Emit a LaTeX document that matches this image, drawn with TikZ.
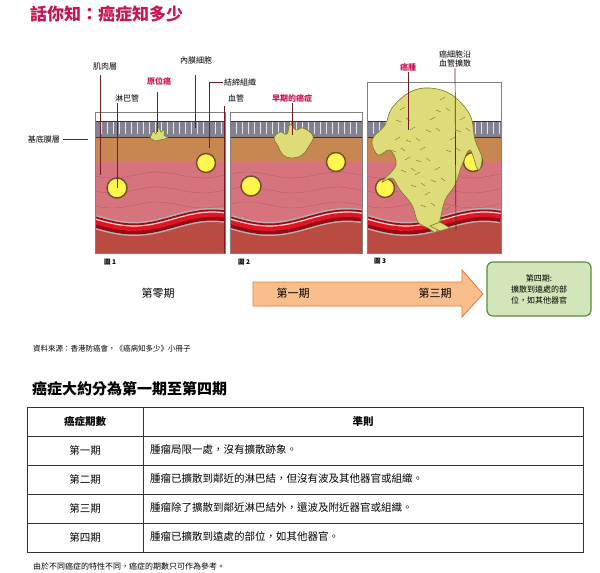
\documentclass[tikz,border=0pt]{standalone}
\usepackage{fontspec}
\setmainfont{Noto Sans CJK TC}
\definecolor{titred}{RGB}{200,20,80}
\definecolor{epi}{RGB}{130,130,145}
\definecolor{brn}{RGB}{200,135,80}
\definecolor{pnk}{RGB}{215,115,125}
\definecolor{bot}{RGB}{185,75,65}
\definecolor{ves}{RGB}{150,10,20}
\definecolor{vesr}{RGB}{225,20,35}
\definecolor{tum}{RGB}{222,220,120}
\definecolor{tumd}{RGB}{120,120,40}
\definecolor{lead}{RGB}{110,30,30}
\definecolor{arr}{RGB}{250,190,140}
\definecolor{arrd}{RGB}{225,120,60}
\definecolor{grn}{RGB}{210,230,185}
\definecolor{grnd}{RGB}{90,140,60}
\tikzset{
 lbl/.style={font=\fontsize{8}{9}\selectfont,inner sep=1pt},
 rlbl/.style={lbl,text=titred,font=\fontsize{8}{9}\selectfont\bfseries},
 leader/.style={lead,line width=0.7pt},
 lymph/.style={fill=yellow!70!white,draw=brown!60!black,line width=1.4pt},
 tumor/.style={fill=tum,draw=tumd,line width=0.6pt},
 cell/.style={font=\fontsize{10.5}{12}\selectfont,inner sep=0pt},
}
\newcommand\mypanel[3]{%
 \begin{scope}
 \clip (#1,#3) rectangle (#2,253);
 \fill[white] (#1,#3) rectangle (#2,253);
 \fill[pnk] (#1,160) rectangle (#2,253);
 \fill[brn] (#1,136) rectangle (#2,162);
 \fill[epi] (#1,121) rectangle (#2,137);
 \foreach \k in {0,...,23}{\pgfmathsetmacro\xx{#1+6*\k}\draw[white!80!gray,line width=0.4pt] (\xx,122)--(\xx,134);}
 \draw[gray!40!black,line width=0.6pt] (#1,121)--(#2,121) (#1,137)--(#2,137);
 \foreach \yy in {175,190,205}{\draw[pnk!80!black,line width=0.3pt] plot[domain=#1:#2,samples=20] (\x,{\yy+3*sin(\x*4)});}
 \fill[bot] plot[domain=#1:#2,samples=40] (\x,{222+7*sin((\x-#1)*2.3)}) -- (#2,253) -- (#1,253) -- cycle;
 \draw[gray!60,line width=14pt] plot[domain=#1:#2,samples=40] (\x,{222+7*sin((\x-#1)*2.3)});
 \draw[ves,line width=11pt] plot[domain=#1:#2,samples=40] (\x,{222+7*sin((\x-#1)*2.3)});
 \draw[vesr,line width=6pt] plot[domain=#1:#2,samples=40] (\x,{221+7*sin((\x-#1)*2.3)});
 \draw[pink!70,line width=1.2pt] plot[domain=#1:#2,samples=40] (\x,{219+7*sin((\x-#1)*2.3)});
 \end{scope}
 \draw[gray,line width=0.8pt] (#1,#3) rectangle (#2,253);}
\begin{document}
\begin{tikzpicture}[x=1pt,y=-1pt]
\useasboundingbox (0,0) rectangle (600,573);
\fill[white] (0,0) rectangle (600,573);
\node[anchor=west,text=titred,font=\fontsize{17}{19}\selectfont\bfseries,inner sep=0] (title) at (30,14) {話你知：癌症知多少};
% panels
\mypanel{95}{225}{112}
\mypanel{230}{362}{112}
\mypanel{367}{501}{82}
% lymph
\node[lymph,circle,minimum size=20pt,inner sep=0] (l1) at (117,188) {};
\node[lymph,circle,minimum size=19pt,inner sep=0] (l2) at (206,163) {};
\node[lymph,circle,minimum size=20pt,inner sep=0] (l3) at (251,186) {};
\node[lymph,circle,minimum size=19pt,inner sep=0] (l4) at (336,162) {};
\node[lymph,circle,minimum size=19pt,inner sep=0] (l5) at (385,188) {};
\node[lymph,circle,minimum size=19pt,inner sep=0] (l6) at (473,162) {};
% tumours
\draw[tumor] (150,138)--(153,131)--(156,134)--(158,126)--(161,132)--(165,129)--(164,135)--(168,138)--(160,140)--(155,141)--cycle;
\draw[tumor] plot[smooth cycle,tension=0.7] coordinates{(280,132)(287,134)(290,124)(296,130)(303,128)(313,136)(309,146)(302,155)(292,158)(283,155)(278,146)(274,138)};
\draw[tumor] plot[smooth cycle,tension=0.6] coordinates{(410,92)(430,88)(452,95)(470,115)(475,140)(482,158)(478,170)(470,150)(462,165)(455,185)(445,200)(440,220)(436,232)(428,228)(418,222)(412,205)(400,190)(392,178)(382,182)(396,165)(390,150)(378,155)(372,140)(385,125)(392,108)};
\foreach \a/\b in {400/110,410/130,420/150,430/120,440/100,450/140,435/170,425/195,415/175,460/120,395/140,445/210,405/160}{
 \draw[tumd,line width=0.4pt] (\a,\b)--++(5,-3) (\a+6,\b+8)--++(4,3) (\a-4,\b+10)--++(5,2);}
\draw[tumor] (430,226)--(440,222)--(450,228)--(440,231)--cycle;
% labels
\node[lbl] (t1) at (105,66) {肌肉層};
\node[lbl] (t2) at (127,98) {淋巴管};
\node[rlbl] (t3) at (159,81) {原位癌};
\node[lbl] (t4) at (196,60) {內膜細胞};
\node[lbl] (t5) at (240,82) {結締組織};
\node[lbl] (t6) at (236,98) {血管};
\node[rlbl] (t7) at (292,98) {早期的癌症};
\node[lbl,anchor=east] (t8) at (61,139) {基底膜層};
\node[rlbl] (t9) at (408,67) {癌腫};
\node[lbl,align=center] (t10) at (455,59) {癌細胞沿\\血管擴散};
\coordinate (e1) at (100,175); \coordinate (e2) at (117,188); \coordinate (e3) at (157,132);
\coordinate (e4) at (195,128); \coordinate (e5) at (209,148); \coordinate (e6) at (224,253);
\coordinate (e7) at (292,135); \coordinate (e8) at (88,139); \coordinate (e9) at (408,130); \coordinate (e10) at (456,230);
\coordinate (s1a) at (100,75); \coordinate (s2a) at (117,103); \coordinate (s3a) at (157,92);
\coordinate (s4a) at (195,75); \coordinate (s5a) at (209,85); \coordinate (s6a) at (224,106);
\draw[leader] (s1a) -- (e1);
\draw[leader] (s2a) -- (e2);
\draw[leader] (s3a) -- (e3);
\draw[leader] (s4a) -- (e4);
\draw[leader] (t5.west) -| (e5);
\draw[leader] (s6a) -- (e6);
\draw[leader] (t7.south) -- (e7);
\draw[leader] (t8.east) ++(2,0) -- (e8);
\draw[leader] (t9.south) -- (e9);
\draw[leader] (t10.south) -- (e10);
% figure captions
\node[lbl,font=\fontsize{6.5}{7}\selectfont\bfseries] (f1) at (110,262) {圖 1};
\node[lbl,font=\fontsize{6.5}{7}\selectfont\bfseries] (f2) at (244,262) {圖 2};
\node[lbl,font=\fontsize{6.5}{7}\selectfont\bfseries] (f3) at (380,261) {圖 3};
% stages
\node[cell,font=\fontsize{11}{12}\selectfont] (s0) at (158,293) {第零期};
\path[fill=arr,draw=arrd,line width=0.8pt] (253,282)--(462,282)--(462,270)--(483,294)--(462,317)--(462,306)--(253,306)--cycle;
\node[cell,font=\fontsize{11}{12}\selectfont] (s1) at (293,293) {第一期};
\node[cell,font=\fontsize{11}{12}\selectfont] (s3) at (435,293) {第三期};
\node[draw=grnd,fill=grn,rounded corners=6pt,line width=1.2pt,minimum width=104pt,minimum height=54pt,align=center,font=\fontsize{8}{11}\selectfont] (s4) at (539,289) {第四期:\\擴散到遠處的部\\位，如其他器官};
% source
\node[anchor=west,font=\fontsize{7.5}{8}\selectfont,inner sep=0] (src) at (33,349) {資料來源：香港防癌會，《癌病知多少》小冊子};
\node[anchor=west,font=\fontsize{15}{16}\selectfont\bfseries,inner sep=0] (sec) at (32,389) {癌症大約分為第一期至第四期};
% table
\draw[gray!40!black,line width=0.7pt] (27,407) rectangle (583,552);
\foreach \yy in {436,465,494,523}{\draw[gray!40!black,line width=0.6pt] (27,\yy)--(583,\yy);}
\draw[gray!40!black,line width=0.6pt] (143,407)--(143,552);
\node[cell,font=\fontsize{10.5}{12}\selectfont\bfseries] (h1) at (85,421) {癌症期數};
\node[cell,font=\fontsize{10.5}{12}\selectfont\bfseries] (h2) at (363,421) {準則};
\node[cell] (c1) at (85,450) {第一期};
\node[cell] (c2) at (85,479) {第二期};
\node[cell] (c3) at (85,508) {第三期};
\node[cell] (c4) at (85,537) {第四期};
\node[cell,anchor=west] (d1) at (150,450) {腫瘤局限一處，沒有擴散跡象。};
\node[cell,anchor=west] (d2) at (150,479) {腫瘤已擴散到鄰近的淋巴結，但沒有波及其他器官或組織。};
\node[cell,anchor=west] (d3) at (150,508) {腫瘤除了擴散到鄰近淋巴結外，還波及附近器官或組織。};
\node[cell,anchor=west] (d4) at (150,537) {腫瘤已擴散到遠處的部位，如其他器官。};
\node[anchor=west,font=\fontsize{8}{9}\selectfont,inner sep=0] (foot) at (33,566) {由於不同癌症的特性不同，癌症的期數只可作為參考。};
\end{tikzpicture}
\end{document}
